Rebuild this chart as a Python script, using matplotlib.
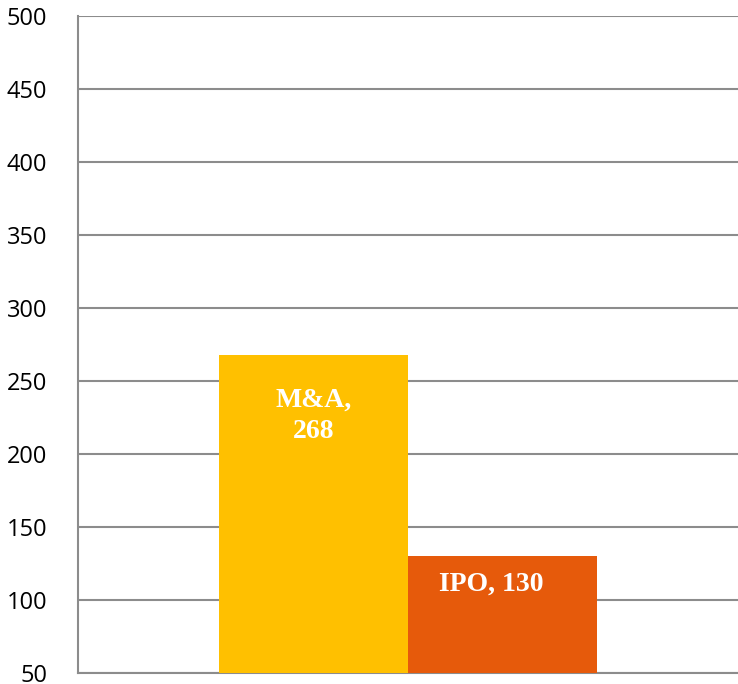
import matplotlib.pyplot as plt

# data
categories = ['M&A', 'IPO']
values = [268, 130]
colors = ['#FFC000', '#E65A0B']
yticks = [50, 100, 150, 200, 250, 300, 350, 400, 450, 500]

fig = plt.figure(figsize=(7.38, 6.84), dpi=100)
ax = fig.add_axes([78/738, 11/684, 660/738, 657/684])

x = range(len(categories))
bars = ax.bar(x, values, width=1.0, color=colors, zorder=3)

ax.set_xlim(-1.246, 2.246)
ax.set_ylim(50, 500)
ax.set_yticks(yticks)
ax.set_xticks([])
ax.yaxis.grid(True, color='#8c8c8c', linewidth=1.5, zorder=0)
ax.set_axisbelow(True)
ax.tick_params(axis='y', length=0, pad=22, labelsize=17)
for lab in ax.get_yticklabels():
    lab.set_fontfamily('Open Sans')

for s in ['top', 'right']:
    ax.spines[s].set_visible(False)
for s in ['left', 'bottom']:
    ax.spines[s].set_color('#8c8c8c')
    ax.spines[s].set_linewidth(1.5)

# labels inside bars
ax.text(0, 226, 'M&A,\n268', ha='center', va='center', color='white',
        fontsize=20, fontweight='bold', family='Liberation Serif',
        linespacing=1.35, zorder=4)
ax.text(0.94, 111, 'IPO, 130', ha='center', va='center', color='white',
        fontsize=20, fontweight='bold', family='Liberation Serif', zorder=4)

fig.savefig('out.png', dpi=100)
